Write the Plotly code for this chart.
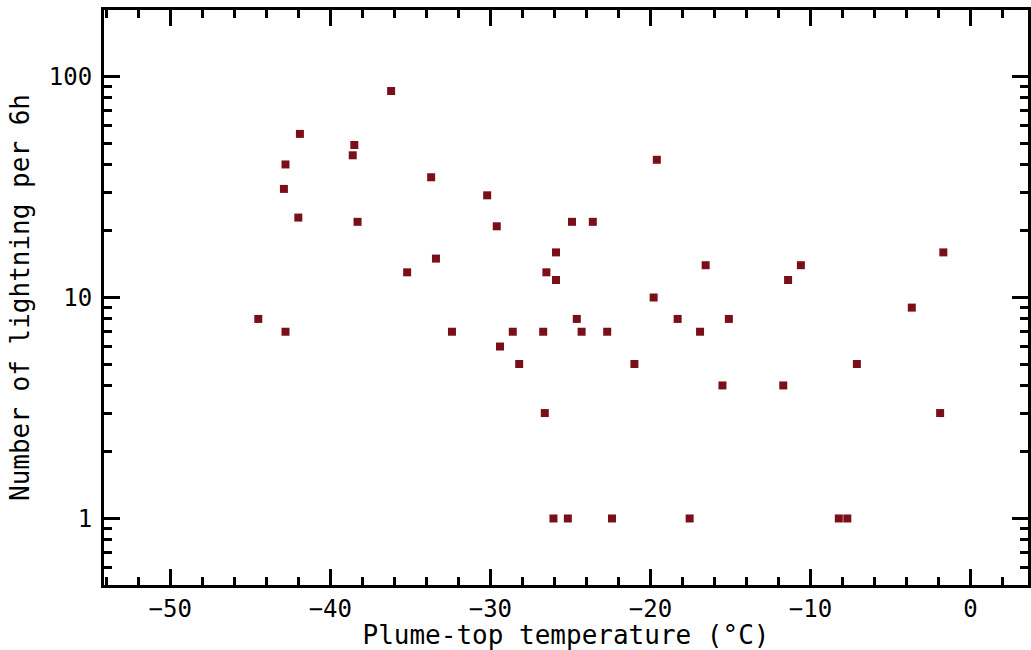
import plotly.graph_objects as go
import math

# Plume-top temperature (°C)
temperature = [
    -44.5, -42.8, -42.8, -42.9, -42.0, -41.9, -38.6, -38.5, -38.3, -36.2,
    -35.2, -33.7, -33.4, -32.4, -30.2, -29.6, -29.4, -28.6, -28.2, -26.7,
    -26.6, -26.5, -26.06, -25.9, -25.9, -25.16, -24.9, -24.6, -24.3, -23.6,
    -22.7, -22.4, -21.0, -19.8, -19.6, -18.3, -17.55, -16.9, -16.55, -15.5,
    -15.1, -11.7, -11.4, -10.6, -8.23, -7.7, -7.1, -3.67, -1.9, -1.7,
]
# Number of lightning per 6h
lightning = [
    8, 7, 40, 31, 23, 55, 44, 49, 22, 86,
    13, 35, 15, 7, 29, 21, 6, 7, 5, 7,
    3, 13, 1, 16, 12, 1, 22, 8, 7, 22,
    7, 1, 5, 10, 42, 8, 1, 7, 14, 4,
    8, 4, 12, 14, 1, 1, 5, 9, 3, 16,
]

x_range = [-54.14, 3.59]
y_range_vals = [0.5, 200]

FONT = "DejaVu Sans Mono"

fig = go.Figure()
fig.add_trace(go.Scatter(
    x=temperature, y=lightning, mode="markers",
    marker=dict(symbol="square", size=8, color="#7a0f1a", line=dict(width=0)),
    showlegend=False,
))

fig.update_layout(
    width=1031, height=650,
    margin=dict(l=104, r=0, t=10, b=65),
    paper_bgcolor="white", plot_bgcolor="white",
    font=dict(family=FONT, size=24, color="black"),
    xaxis=dict(
        range=x_range, dtick=10, tick0=0,
        showline=True, linewidth=3, linecolor="black", mirror="allticks",
        ticks="inside", ticklen=16, tickwidth=3, tickcolor="black",
        minor=dict(dtick=2, ticklen=8, tickwidth=3, tickcolor="black", ticks="inside"),
        showgrid=False, zeroline=False,
        title=dict(text="Plume-top temperature (°C)", font=dict(size=26), standoff=2),
        ticklabelstandoff=0,
    ),
    yaxis=dict(
        type="log", range=[math.log10(v) for v in y_range_vals], dtick=1,
        showline=True, linewidth=3, linecolor="black", mirror="allticks",
        ticks="inside", ticklen=16, tickwidth=3, tickcolor="black",
        minor=dict(dtick="D1", ticklen=8, tickwidth=3, tickcolor="black", ticks="inside"),
        showgrid=False, zeroline=False,
        title=dict(text="Number of lightning per 6h", font=dict(size=26), standoff=12),
        ticklabelstandoff=4,
    ),
)

fig.write_html("out.html")
